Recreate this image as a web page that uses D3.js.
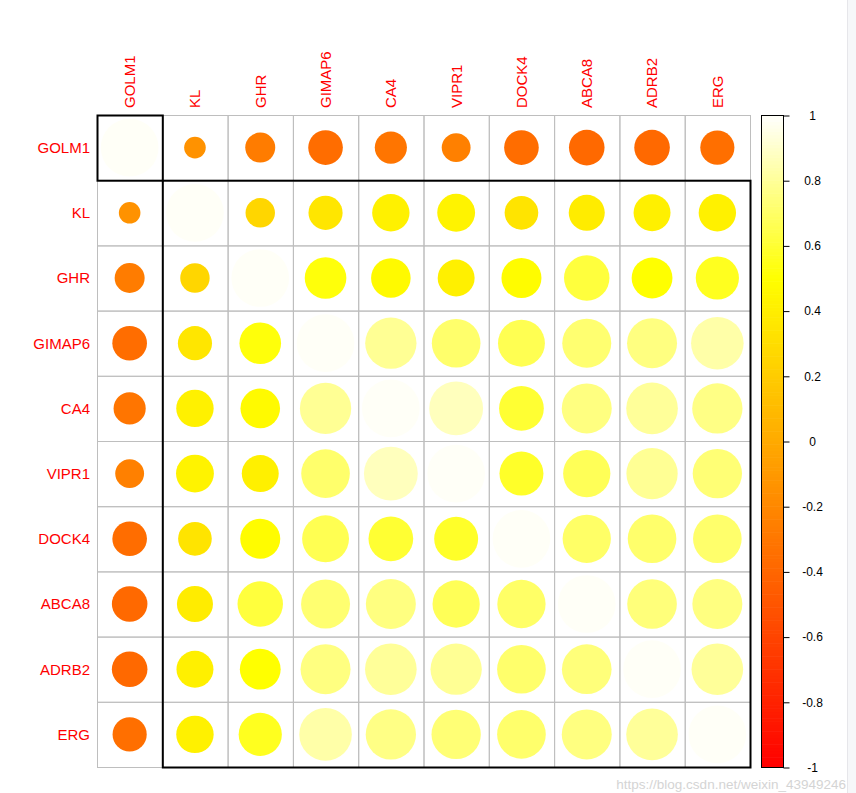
<!DOCTYPE html>
<html>
<head>
<meta charset="utf-8">
<script src="https://cdn.jsdelivr.net/npm/d3@7"></script>
<style>
  body { margin: 0; background: #fff; }
  svg { display: block; font-family: "Liberation Sans", Arial, sans-serif; }
</style>
</head>
<body>
<svg id="chart" width="856" height="793"></svg>
<script>
const genes = ["GOLM1", "KL", "GHR", "GIMAP6", "CA4", "VIPR1", "DOCK4", "ABCA8", "ADRB2", "ERG"];
const corr = [
  [ 1.00, -0.14, -0.27, -0.36, -0.31, -0.25, -0.36, -0.38, -0.38, -0.35],
  [-0.14,  1.00,  0.26,  0.35,  0.42,  0.43,  0.34,  0.39,  0.41,  0.42],
  [-0.27,  0.26,  1.00,  0.52,  0.47,  0.41,  0.48,  0.62,  0.50,  0.56],
  [-0.36,  0.35,  0.52,  1.00,  0.79,  0.71,  0.66,  0.72,  0.75,  0.83],
  [-0.31,  0.42,  0.47,  0.79,  1.00,  0.87,  0.60,  0.75,  0.80,  0.76],
  [-0.25,  0.43,  0.41,  0.71,  0.87,  1.00,  0.58,  0.67,  0.79,  0.73],
  [-0.36,  0.34,  0.48,  0.66,  0.60,  0.58,  1.00,  0.70,  0.71,  0.71],
  [-0.38,  0.39,  0.62,  0.72,  0.75,  0.67,  0.70,  1.00,  0.74,  0.75],
  [-0.38,  0.41,  0.50,  0.75,  0.80,  0.79,  0.71,  0.74,  1.00,  0.80],
  [-0.35,  0.42,  0.56,  0.83,  0.76,  0.73,  0.71,  0.75,  0.80,  1.00]
];
const legendTicks = [-1, -0.8, -0.6, -0.4, -0.2, 0, 0.2, 0.4, 0.6, 0.8, 1];
const legendLabels = ["-1", "-0.8", "-0.6", "-0.4", "-0.2", "0", "0.2", "0.4", "0.6", "0.8", "1"];
const clusterGroups = [["GOLM1", "GOLM1"], ["KL", "ERG"]];
const watermark = "https://blog.csdn.net/weixin_43949246";

// heat.colors-like palette
function heat(r) {
  if (r <= 0.5) {
    const h = (r + 1) / 1.5 * 60;
    return d3.hsl(h, 1, 0.5).formatHex();
  }
  const s = Math.max(0.03, 1 - (r - 0.5) * 2);
  const b = Math.round(255 * (1 - s));
  return d3.rgb(255, 255, b).formatHex();
}

const svg = d3.select("#chart");
const gx0 = 97, gx1 = 750, gy0 = 115, gy1 = 767;

svg.append("rect").attr("x", 847).attr("y", 0).attr("width", 9).attr("height", 793).attr("fill", "#f6f7f9");
svg.append("line").attr("x1", 847.5).attr("x2", 847.5).attr("y1", 0).attr("y2", 793).attr("stroke", "#e6e6ea");

const x = d3.scaleBand().domain(genes).range([gx0, gx1]);
const y = d3.scaleBand().domain(genes).range([gy0, gy1]);
const rad = d3.scaleSqrt().domain([0, 1]).range([0, x.bandwidth() * 0.442]);

const cells = [];
genes.forEach((g, i) => genes.forEach((h, j) => cells.push({ row: g, col: h, v: corr[i][j] })));

// grid
svg.append("g").selectAll("rect").data(cells).join("rect")
  .attr("x", d => x(d.col) + 0.5).attr("y", d => y(d.row) + 0.5)
  .attr("width", x.bandwidth()).attr("height", y.bandwidth())
  .attr("fill", "none").attr("stroke", "#bebebe").attr("stroke-width", 1);

// circles
svg.append("g").selectAll("circle").data(cells).join("circle")
  .attr("cx", d => x(d.col) + x.bandwidth() / 2)
  .attr("cy", d => y(d.row) + y.bandwidth() / 2)
  .attr("r", d => rad(Math.abs(d.v)))
  .attr("fill", d => heat(d.v));

// cluster rectangles
clusterGroups.forEach(([a, b]) => {
  svg.append("rect")
    .attr("x", x(a) + 0.5).attr("y", y(a) + 0.5)
    .attr("width", x(b) + x.bandwidth() - x(a))
    .attr("height", y(b) + y.bandwidth() - y(a))
    .attr("fill", "none").attr("stroke", "#000").attr("stroke-width", 2);
});

// row labels
svg.append("g").selectAll("text").data(genes).join("text")
  .attr("x", 90).attr("y", d => y(d) + y.bandwidth() / 2)
  .attr("dy", "0.36em").attr("text-anchor", "end")
  .attr("fill", "#ff0000").attr("font-size", 15).text(d => d);

// column labels
svg.append("g").selectAll("text").data(genes).join("text")
  .attr("transform", d => `translate(${x(d) + x.bandwidth() / 2},108) rotate(-90)`)
  .attr("dy", "0.36em").attr("text-anchor", "start")
  .attr("fill", "#ff0000").attr("font-size", 15).text(d => d);

// colour legend
const ly = d3.scaleLinear().domain([-1, 1]).range([gy1, gy0]);
const lx0 = 761, lx1 = 783;
const steps = d3.range(-1, 1, 0.01);
svg.append("g").selectAll("rect").data(steps).join("rect")
  .attr("x", lx0).attr("width", lx1 - lx0)
  .attr("y", d => ly(d + 0.01)).attr("height", d => ly(d) - ly(d + 0.01) + 0.6)
  .attr("fill", d => heat(d + 0.005));
svg.append("rect").attr("x", lx0 + 0.5).attr("y", gy0 + 0.5)
  .attr("width", lx1 - lx0).attr("height", gy1 - gy0)
  .attr("fill", "none").attr("stroke", "#000").attr("stroke-width", 1);

const axis = d3.axisRight(ly).tickValues(legendTicks).tickSize(6).tickSizeOuter(0)
  .tickFormat((d, i) => legendLabels[i]);
const ag = svg.append("g").attr("transform", `translate(${lx1 + 0.5},0.5)`).call(axis);
ag.select(".domain").remove();
ag.selectAll("text").attr("x", 29).attr("text-anchor", "middle")
  .attr("font-size", 12).attr("fill", "#000").attr("font-family", "Liberation Sans, Arial, sans-serif");

// watermark
svg.append("text").attr("x", 846).attr("y", 789).attr("text-anchor", "end")
  .attr("font-size", 13.5).attr("fill", "#d4d4d4").text(watermark);
</script>
</body>
</html>
